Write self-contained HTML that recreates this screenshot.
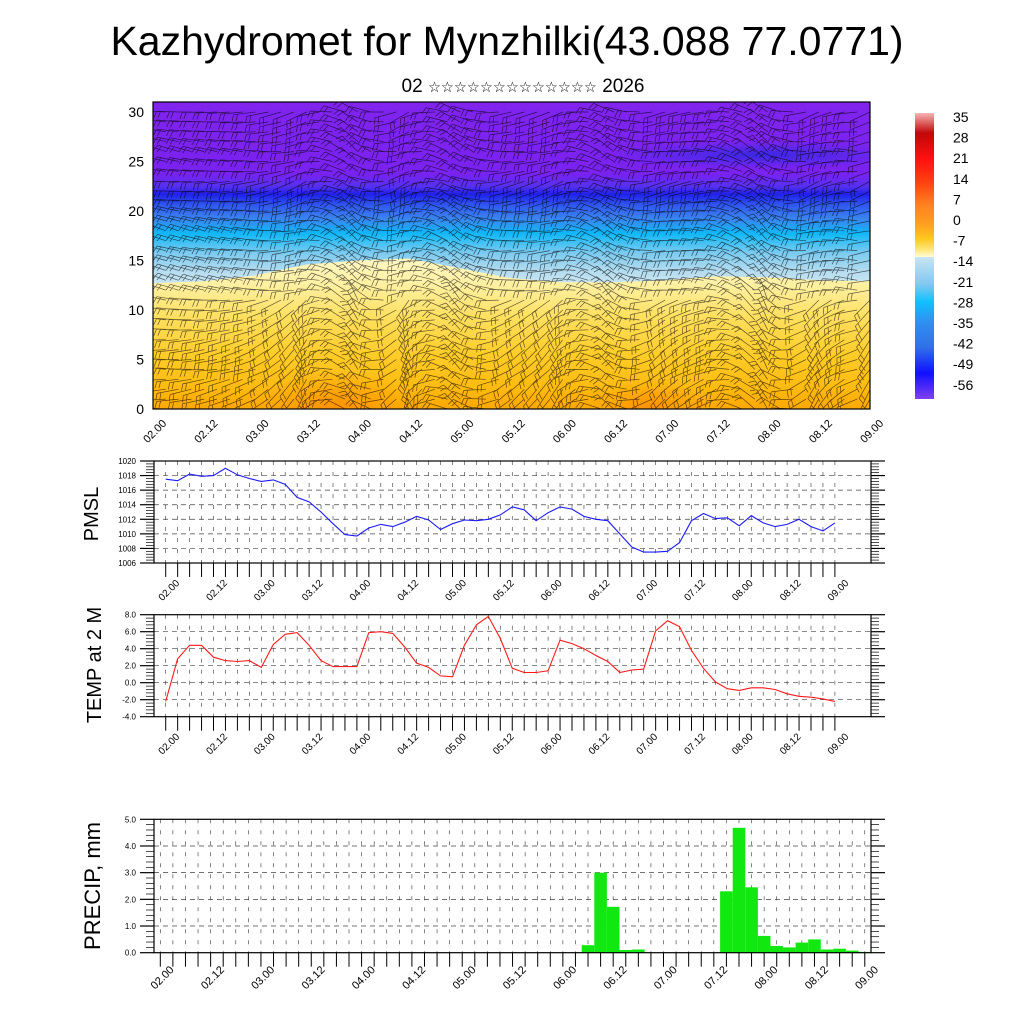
<!DOCTYPE html>
<html><head><meta charset="utf-8">
<style>
html,body{margin:0;padding:0;background:#fff;}
svg{display:block;font-family:"Liberation Sans",sans-serif;}
</style></head>
<body>
<svg id="chart" width="1024" height="1024" viewBox="0 0 1024 1024" xmlns="http://www.w3.org/2000/svg">
<defs>
  <linearGradient id="gBlue" gradientUnits="userSpaceOnUse" x1="0" y1="102" x2="0" y2="290">
    <stop offset="0" stop-color="#8024ee"/>
    <stop offset="0.38" stop-color="#7a22f0"/>
    <stop offset="0.45" stop-color="#5530f0"/>
    <stop offset="0.49" stop-color="#2020ea"/>
    <stop offset="0.55" stop-color="#3058f0"/>
    <stop offset="0.62" stop-color="#3a84f0"/>
    <stop offset="0.70" stop-color="#10b8f8"/>
    <stop offset="0.80" stop-color="#78caf0"/>
    <stop offset="0.90" stop-color="#b4dcf0"/>
    <stop offset="1" stop-color="#d4eaf2"/>
  </linearGradient>
  <linearGradient id="gYel" gradientUnits="userSpaceOnUse" x1="0" y1="255" x2="0" y2="409">
    <stop offset="0" stop-color="#fff8c8"/>
    <stop offset="0.2" stop-color="#fff0a0"/>
    <stop offset="0.4" stop-color="#ffe060"/>
    <stop offset="0.65" stop-color="#ffcc28"/>
    <stop offset="0.85" stop-color="#ffbc12"/>
    <stop offset="1" stop-color="#ffa800"/>
  </linearGradient>
  <radialGradient id="gOr">
    <stop offset="0" stop-color="#ff8c00" stop-opacity="0.85"/>
    <stop offset="1" stop-color="#ff9800" stop-opacity="0"/>
  </radialGradient>
  <radialGradient id="gDb">
    <stop offset="0" stop-color="#2828e0" stop-opacity="0.8"/>
    <stop offset="1" stop-color="#3030e8" stop-opacity="0"/>
  </radialGradient>
  <linearGradient id="gBar" x1="0" y1="0" x2="0" y2="1">
    <stop offset="0" stop-color="#f8b4b4"/>
    <stop offset="0.07" stop-color="#c00808"/>
    <stop offset="0.16" stop-color="#ff1010"/>
    <stop offset="0.24" stop-color="#ff4010"/>
    <stop offset="0.32" stop-color="#ff8020"/>
    <stop offset="0.39" stop-color="#ffa020"/>
    <stop offset="0.44" stop-color="#ffc820"/>
    <stop offset="0.48" stop-color="#ffe880"/>
    <stop offset="0.503" stop-color="#fffcd8"/>
    <stop offset="0.504" stop-color="#c8e4f2"/>
    <stop offset="0.6" stop-color="#80c8f0"/>
    <stop offset="0.66" stop-color="#10c0ff"/>
    <stop offset="0.73" stop-color="#3090f0"/>
    <stop offset="0.82" stop-color="#3070e8"/>
    <stop offset="0.91" stop-color="#1010ff"/>
    <stop offset="1" stop-color="#8040f0"/>
  </linearGradient>
  <clipPath id="topClip"><rect x="153" y="102" width="717" height="307"/></clipPath>
</defs>

<text x="507" y="55" font-size="41" text-anchor="middle">Kazhydromet for Mynzhilki(43.088 77.0771)</text>
<text x="523" y="92" font-size="19" text-anchor="middle">02 <tspan font-size="14.5">☆☆☆☆☆☆☆☆☆☆☆☆☆</tspan> 2026</text>

<g id="topPanel" clip-path="url(#topClip)">
  <rect x="153" y="102" width="717" height="307" fill="url(#gBlue)"/>
  <ellipse cx="760" cy="155" rx="150" ry="14" fill="url(#gDb)"/>
  <path id="yelArea" fill="url(#gYel)"/>
  <ellipse cx="335" cy="409" rx="80" ry="40" fill="url(#gOr)"/>
  <ellipse cx="650" cy="409" rx="55" ry="30" fill="url(#gOr)"/>
  <path id="barbs" fill="none" stroke="#000" stroke-opacity="0.62" stroke-width="0.7"/>
</g>
<rect x="153" y="102" width="717" height="307" fill="none" stroke="#000" stroke-width="1.2"/>
<g id="topAxes"></g>

<g>
  <rect x="915" y="113" width="19" height="286" fill="url(#gBar)"/>
  <g id="cbLabels" font-size="14"></g>
</g>

<g id="pmslPanel"></g>
<g id="tempPanel"></g>
<g id="precPanel"></g>

<text transform="translate(98,514) rotate(-90)" font-size="20" text-anchor="middle">PMSL</text>
<text transform="translate(101,665) rotate(-90)" font-size="20" text-anchor="middle">TEMP at 2 M</text>
<text transform="translate(100,886) rotate(-90)" font-size="22" text-anchor="middle">PRECIP, mm</text>
</svg>

<script>
const NS = "http://www.w3.org/2000/svg";
const timeLabels = ["02.00","02.12","03.00","03.12","04.00","04.12","05.00","05.12","06.00","06.12","07.00","07.12","08.00","08.12","09.00"];
const pmslValues = [1017.5,1017.3,1018.2,1017.9,1018.0,1019.0,1018.1,1017.6,1017.2,1017.4,
 1016.8,1015.0,1014.4,1013.0,1011.4,1009.9,1009.7,1010.8,1011.3,1011.0,
 1011.6,1012.4,1011.9,1010.6,1011.4,1011.9,1011.8,1012.0,1012.6,1013.7,
 1013.3,1011.8,1012.9,1013.7,1013.4,1012.4,1012.0,1011.8,1010.0,1008.2,
 1007.5,1007.5,1007.6,1008.8,1011.8,1012.8,1012.1,1012.2,1011.1,1012.5,
 1011.5,1011.0,1011.3,1012.0,1011.0,1010.4,1011.5];
const tempValues = [-2.2,2.8,4.4,4.4,3.0,2.6,2.5,2.6,1.8,4.5,
 5.7,5.9,4.4,2.6,1.9,1.9,1.9,5.9,6.0,5.8,
 4.2,2.3,1.8,0.8,0.7,4.4,6.8,7.8,5.2,1.7,
 1.2,1.2,1.4,5.0,4.6,4.0,3.2,2.5,1.2,1.5,
 1.6,6.1,7.3,6.6,3.8,1.7,0.1,-0.7,-0.9,-0.6,
 -0.6,-0.8,-1.3,-1.6,-1.7,-1.9,-2.2];
const precipValues = [0,0,0,0,0,0,0,0,0,0, 0,0,0,0,0,0,0,0,0,0,
 0,0,0,0,0,0,0,0,0,0, 0,0,0,0,0.28,3.0,1.72,0.1,0.12,0,
 0,0,0,0,0,2.3,4.68,2.45,0.63,0.25, 0.2,0.38,0.5,0.12,0.15,0.08,0.03];
const pmslTicks = [1006,1008,1010,1012,1014,1016,1018,1020];
const tempTicks = [-4,-2,0,2,4,6,8];
const precTicks = [0,1,2,3,4,5];
const topTicks = [0,5,10,15,20,25,30];
const cbLabelValues = [35,28,21,14,7,0,-7,-14,-21,-28,-35,-42,-49,-56];
const boundaryIdx = [0,4,8,12,16,20,24,28,32,36,40,44,48,52,56];
const boundaryHeight = [12.7,12.9,13.5,14.6,15.0,15.2,14.2,13.2,12.8,12.8,13.0,13.4,13.3,13.0,12.9];
const windDirByLevel = [175,180,185,180,170,175,180,178,172,170,168,165,160,158,160,162,165,160,158,162,165,172,176,178,170,165,160,165,170,172,175];
const windShiftByHalfDay = [0,6,12,30,-25,35,-20,18,28,-18,22,12,-28,30,5];

function el(tag, attrs, parent){const e=document.createElementNS(NS,tag);for(const k in attrs)e.setAttribute(k,attrs[k]);parent.appendChild(e);return e;}

const txTop = i => 153 + i*717/56;
const tyTop = h => 409 - h*9.9;
let d = "M153,409 ";
boundaryIdx.forEach((b,k)=>{ d += "L"+txTop(b).toFixed(1)+","+tyTop(boundaryHeight[k]).toFixed(1)+" "; });
d += "L870,409 Z";
document.getElementById('yelArea').setAttribute('d', d);

let bd = "";
for (let i=0;i<=56;i++){
  const k = Math.min(13, Math.floor(i/4)), f=(i%4)/4;
  const sh = windShiftByHalfDay[k]*(1-f) + windShiftByHalfDay[Math.min(14,k+1)]*f;
  for (let h=0; h<=30; h++){
    const amp = h<12 ? 2.0 : 1.0;
    const ang = (windDirByLevel[h] + sh*amp) * Math.PI/180;
    const x0=txTop(i), y0=tyTop(h);
    const L=22;
    const x1=x0+Math.cos(ang)*L, y1=y0-Math.sin(ang)*L;
    bd += "M"+x0.toFixed(1)+","+y0.toFixed(1)+"L"+x1.toFixed(1)+","+y1.toFixed(1);
    const pa = ang + Math.PI/2.6;
    for (let b=0;b<2;b++){
      const bx = x0+Math.cos(ang)*(L-b*4), by = y0-Math.sin(ang)*(L-b*4);
      bd += "M"+bx.toFixed(1)+","+by.toFixed(1)+"L"+(bx+Math.cos(pa)*7).toFixed(1)+","+(by-Math.sin(pa)*7).toFixed(1);
    }
  }
}
document.getElementById('barbs').setAttribute('d', bd);

const topAxes=document.getElementById('topAxes');
topTicks.forEach(v=>{
  const t=el('text',{x:144,y:(tyTop(v)+5).toFixed(1),'font-size':14,'text-anchor':'end'},topAxes);
  
  
  t.textContent=v;
});
timeLabels.forEach((lab,k)=>{
  const cx=txTop(k*4)+1.5, cy=431;
  const t=el('text',{x:cx,y:cy+4,'font-size':11,'text-anchor':'middle',transform:`rotate(-45 ${cx} ${cy})`},topAxes);
  
  
  t.textContent=lab;
});

const cbl=document.getElementById('cbLabels');
cbLabelValues.forEach((v,k)=>{
  const t=el('text',{x:953,y:(122+k*20.6).toFixed(1)},cbl);
  
  
  t.textContent=v;
});

function panel(g, o){
  const x0=154, x1=871;
  const X=o.x, Y=o.y;
  for(let i=0;i<=56;i++){
    const gl=el('line',{x1:X(i),x2:X(i),y1:o.top,y2:o.bot,stroke:'#333','stroke-width':0.6,'stroke-dasharray':'4 7'},g);
    
    
  }
  o.ticks.forEach(v=>{
    if(Y(v)>o.top+1 && Y(v)<o.bot-1){
      const gl=el('line',{x1:x0,x2:x1,y1:Y(v),y2:Y(v),stroke:'#444','stroke-width':0.7,'stroke-dasharray':'5 4'},g);
      
      
    }
  });
  const step=(o.ticks[1]-o.ticks[0])/5;
  for(let v=o.ticks[0]; v<=o.ticks[o.ticks.length-1]+1e-6; v+=step){
    const major = Math.abs(Math.round((v-o.ticks[0])/step)%5)===0;
    const len = major?14:8;
    const a=el('line',{x1:x0-len,x2:x0,y1:Y(v),y2:Y(v),stroke:'#000','stroke-width':major?1.2:0.7},g);
    
    
    const b=el('line',{x1:x1,x2:x1+len,y1:Y(v),y2:Y(v),stroke:'#000','stroke-width':major?1.2:0.7},g);
    
    
  }
  o.ticks.forEach(v=>{
    const t=el('text',{x:136,y:Y(v)+3,'font-size':8,'text-anchor':'end'},g);
    
    
    t.textContent=o.fmt(v);
  });
  for(let i=0;i<=56;i++){
    const tk=el('line',{x1:X(i),x2:X(i),y1:o.bot,y2:o.bot+14,stroke:'#000','stroke-width':1},g);
    
    
  }
  timeLabels.forEach((lab,k)=>{
    const cx=X(k*4)+o.lx, cy=o.bot+o.ly;
    const t=el('text',{x:cx,y:cy+3.5,'font-size':o.fs,'text-anchor':'middle',transform:`rotate(-45 ${cx} ${cy})`},g);
    
    
    t.textContent=lab;
  });
}

const gp=document.getElementById('pmslPanel');


const xL = i => 165.7 + i*11.95;
const yP = v => 563 - (v-1006)*(102/14);
panel(gp,{x:xL,y:yP,top:461,bot:563,ticks:pmslTicks,fmt:v=>String(v),lx:3,ly:27,fs:10});
const pl=el('polyline',{points:pmslValues.map((v,i)=>xL(i).toFixed(1)+","+yP(v).toFixed(1)).join(' '),fill:'none',stroke:'#1a1aff','stroke-width':1.1},gp);


const fp=el('rect',{x:154,y:461,width:717,height:102,fill:'none',stroke:'#000','stroke-width':1.2},gp);



const gt=document.getElementById('tempPanel');


const yT = v => 716.7 - (v+4)*(102/12);
panel(gt,{x:xL,y:yT,top:614.7,bot:716.7,ticks:tempTicks,fmt:v=>v.toFixed(1),lx:3,ly:27,fs:10});
const tl=el('polyline',{points:tempValues.map((v,i)=>xL(i).toFixed(1)+","+yT(v).toFixed(1)).join(' '),fill:'none',stroke:'#ff1a1a','stroke-width':1.1},gt);


const ft=el('rect',{x:154,y:614.7,width:717,height:102,fill:'none',stroke:'#000','stroke-width':1.2},gt);



const gr=document.getElementById('precPanel');


const xR = i => 160.3 + i*12.58;
const yR = v => 952.7 - v*26.68;
panel(gr,{x:xR,y:yR,top:819.3,bot:952.7,ticks:precTicks,fmt:v=>v.toFixed(1),lx:2,ly:25,fs:11});
precipValues.forEach((v,i)=>{
  if(v<=0) return;
  const r=el('rect',{x:(xR(i)-6.29).toFixed(1),y:yR(v).toFixed(1),width:12.58,height:(952.7-yR(v)).toFixed(1),fill:'#10e810'},gr);
  
  
});
const fr=el('rect',{x:154,y:819.3,width:717,height:133.4,fill:'none',stroke:'#000','stroke-width':1.2},gr);


</script>
</body></html>
